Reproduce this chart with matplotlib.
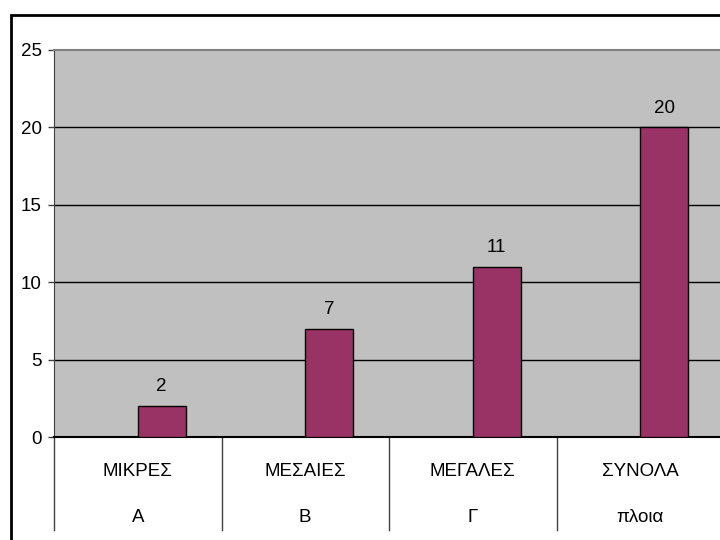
import numpy as np
import matplotlib.pyplot as plt
import matplotlib.transforms as mtransforms
from matplotlib.patches import Rectangle
from matplotlib import font_manager

# narrow Arial-like face if available
names = {f.name for f in font_manager.fontManager.ttflist}
family = 'Liberation Sans Narrow' if 'Liberation Sans Narrow' in names else 'Liberation Sans'
plt.rcParams['font.family'] = [family, 'DejaVu Sans']

groups = ['ΜΙΚΡΕΣ', 'ΜΕΣΑΙΕΣ', 'ΜΕΓΑΛΕΣ', 'ΣΥΝΟΛΑ']
subgroups = ['Α', 'Β', 'Γ', 'πλοια']
ships = [2, 7, 11, 20]
yticks = [0, 5, 10, 15, 20, 25]

fs = 13.5
fig = plt.figure(figsize=(7.2, 5.4), dpi=100)
ax = fig.add_axes([54 / 720, 103 / 540, 670 / 720, 387 / 540])

# outer chart frame
fig.patches.append(Rectangle((11 / 720, -0.1), 1.2, 1.1 - 15 / 540,
                             transform=fig.transFigure, fill=False,
                             edgecolor='black', linewidth=2, zorder=0))

ax.set_facecolor('#c0c0c0')
w = 1 / 3.5
x = np.arange(len(groups))
ax.bar(x + w / 2, ships, width=w, color='#993366',
       edgecolor='black', linewidth=1, zorder=3)
for xi, v in zip(x, ships):
    ax.text(xi + w / 2, v + 1.25, str(v), ha='center', va='center', fontsize=fs)

ax.set_xlim(-0.5, len(groups) - 0.5)
ax.set_ylim(0, 25)
ax.set_yticks(yticks)
ax.tick_params(axis='y', labelsize=fs, length=4, width=1, direction='out',
               pad=5, color='#404040')
ax.set_xticks([])
for t in yticks[1:-1]:
    ax.axhline(t, color='black', linewidth=1, zorder=1)

ax.spines['top'].set_color('#808080')
ax.spines['top'].set_linewidth(1.5)
ax.spines['right'].set_visible(False)
ax.spines['left'].set_color('#404040')
ax.spines['bottom'].set_linewidth(1.5)

# two-level category axis
trans = mtransforms.blended_transform_factory(ax.transData, ax.transAxes)
for xi, g, s in zip(x, groups, subgroups):
    ax.text(xi, -0.09, g, transform=trans, ha='center', va='center', fontsize=fs)
    ax.text(xi, -0.209, s, transform=trans, ha='center', va='center', fontsize=fs)
for b in np.arange(len(groups) + 1) - 0.5:
    ax.plot([b, b], [0, -0.24], transform=trans, color='#404040',
            linewidth=1, clip_on=False)

fig.savefig('out.png', dpi=100)
